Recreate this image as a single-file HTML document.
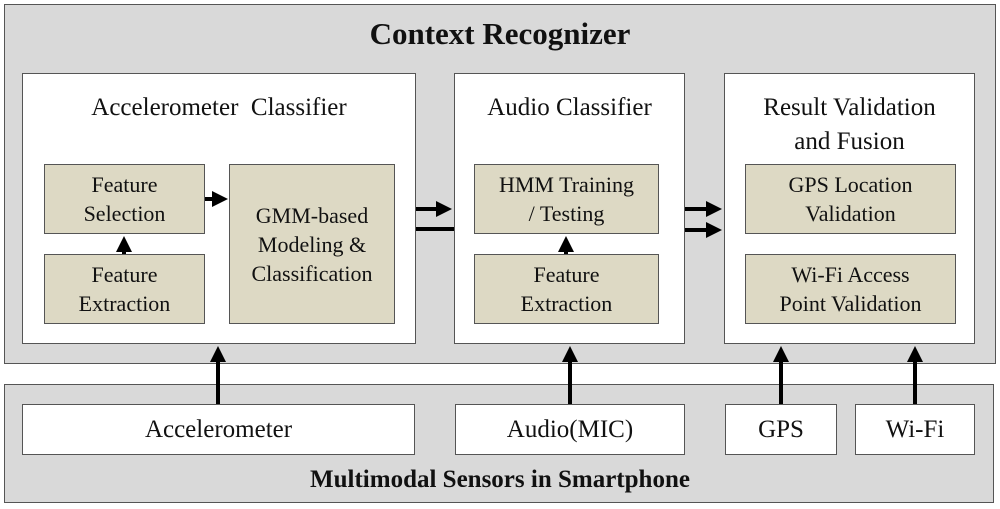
<!DOCTYPE html>
<html><head><style>
body{margin:0;width:1000px;height:509px;background:#fff;position:relative;font-family:"Liberation Serif",serif;color:#111;overflow:hidden}
.a{position:absolute;box-sizing:border-box}
.g{background:#d9d9d9;border:1.5px solid #555}
.w{background:#fff;border:1.5px solid #555}
.t{background:#ddd9c4;border:1.5px solid #555;display:flex;align-items:center;justify-content:center;text-align:center;font-size:22px;line-height:29px}
.pt{position:absolute;left:0;right:0;text-align:center;font-size:25px;line-height:34px}
.s{display:flex;align-items:center;justify-content:center;font-size:25px}
</style></head><body>
<div class="a g" style="left:4px;top:4px;width:992px;height:360px"></div>
<div class="a" style="left:0;top:16px;width:1000px;text-align:center;font-weight:bold;font-size:31px">Context Recognizer</div>
<div class="a g" style="left:4px;top:384px;width:990px;height:119px"></div>
<div class="a" style="left:0;top:466px;width:1000px;text-align:center;font-weight:bold;font-size:25px">Multimodal Sensors in Smartphone</div>

<div class="a w" style="left:22px;top:73px;width:394px;height:271px"><div class="pt" style="top:17px">Accelerometer&nbsp; Classifier</div></div>
<div class="a w" style="left:454px;top:73px;width:231px;height:271px"><div class="pt" style="top:17px">Audio Classifier</div></div>
<div class="a w" style="left:724px;top:73px;width:251px;height:271px"><div class="pt" style="top:17px">Result Validation<br>and Fusion</div></div>

<div class="a t" style="left:44px;top:164px;width:161px;height:70px">Feature<br>Selection</div>
<div class="a t" style="left:44px;top:254px;width:161px;height:70px">Feature<br>Extraction</div>
<div class="a t" style="left:229px;top:164px;width:166px;height:160px">GMM-based<br>Modeling &amp;<br>Classification</div>
<div class="a t" style="left:474px;top:164px;width:185px;height:70px">HMM Training<br>/ Testing</div>
<div class="a t" style="left:474px;top:254px;width:185px;height:70px">Feature<br>Extraction</div>
<div class="a t" style="left:745px;top:164px;width:211px;height:70px">GPS Location<br>Validation</div>
<div class="a t" style="left:745px;top:254px;width:211px;height:70px">Wi-Fi Access<br>Point Validation</div>

<div class="a w s" style="left:22px;top:404px;width:393px;height:51px">Accelerometer</div>
<div class="a w s" style="left:455px;top:404px;width:230px;height:51px">Audio(MIC)</div>
<div class="a w s" style="left:725px;top:404px;width:112px;height:51px">GPS</div>
<div class="a w s" style="left:855px;top:404px;width:120px;height:51px">Wi-Fi</div>

<svg class="a" style="left:0;top:0" width="1000" height="509">
<defs><marker id="m" markerWidth="4" markerHeight="4" refX="3" refY="2" orient="auto" markerUnits="strokeWidth"><path d="M0,0L4,2L0,4z" fill="#000"/></marker></defs>
<g stroke="#000" stroke-width="4" fill="none">
<line x1="205" y1="199" x2="224" y2="199" marker-end="url(#m)"/>
<line x1="124" y1="254" x2="124" y2="240" marker-end="url(#m)"/>
<line x1="566" y1="254" x2="566" y2="240" marker-end="url(#m)"/>
<line x1="416" y1="209" x2="448" y2="209" marker-end="url(#m)"/>
<line x1="416" y1="229" x2="454" y2="229"/>
<line x1="685" y1="209" x2="718" y2="209" marker-end="url(#m)"/>
<line x1="685" y1="230" x2="718" y2="230" marker-end="url(#m)"/>
<line x1="218" y1="404" x2="218" y2="350" marker-end="url(#m)"/>
<line x1="570" y1="404" x2="570" y2="350" marker-end="url(#m)"/>
<line x1="781" y1="404" x2="781" y2="350" marker-end="url(#m)"/>
<line x1="915" y1="404" x2="915" y2="350" marker-end="url(#m)"/>
</g></svg>
</body></html>
